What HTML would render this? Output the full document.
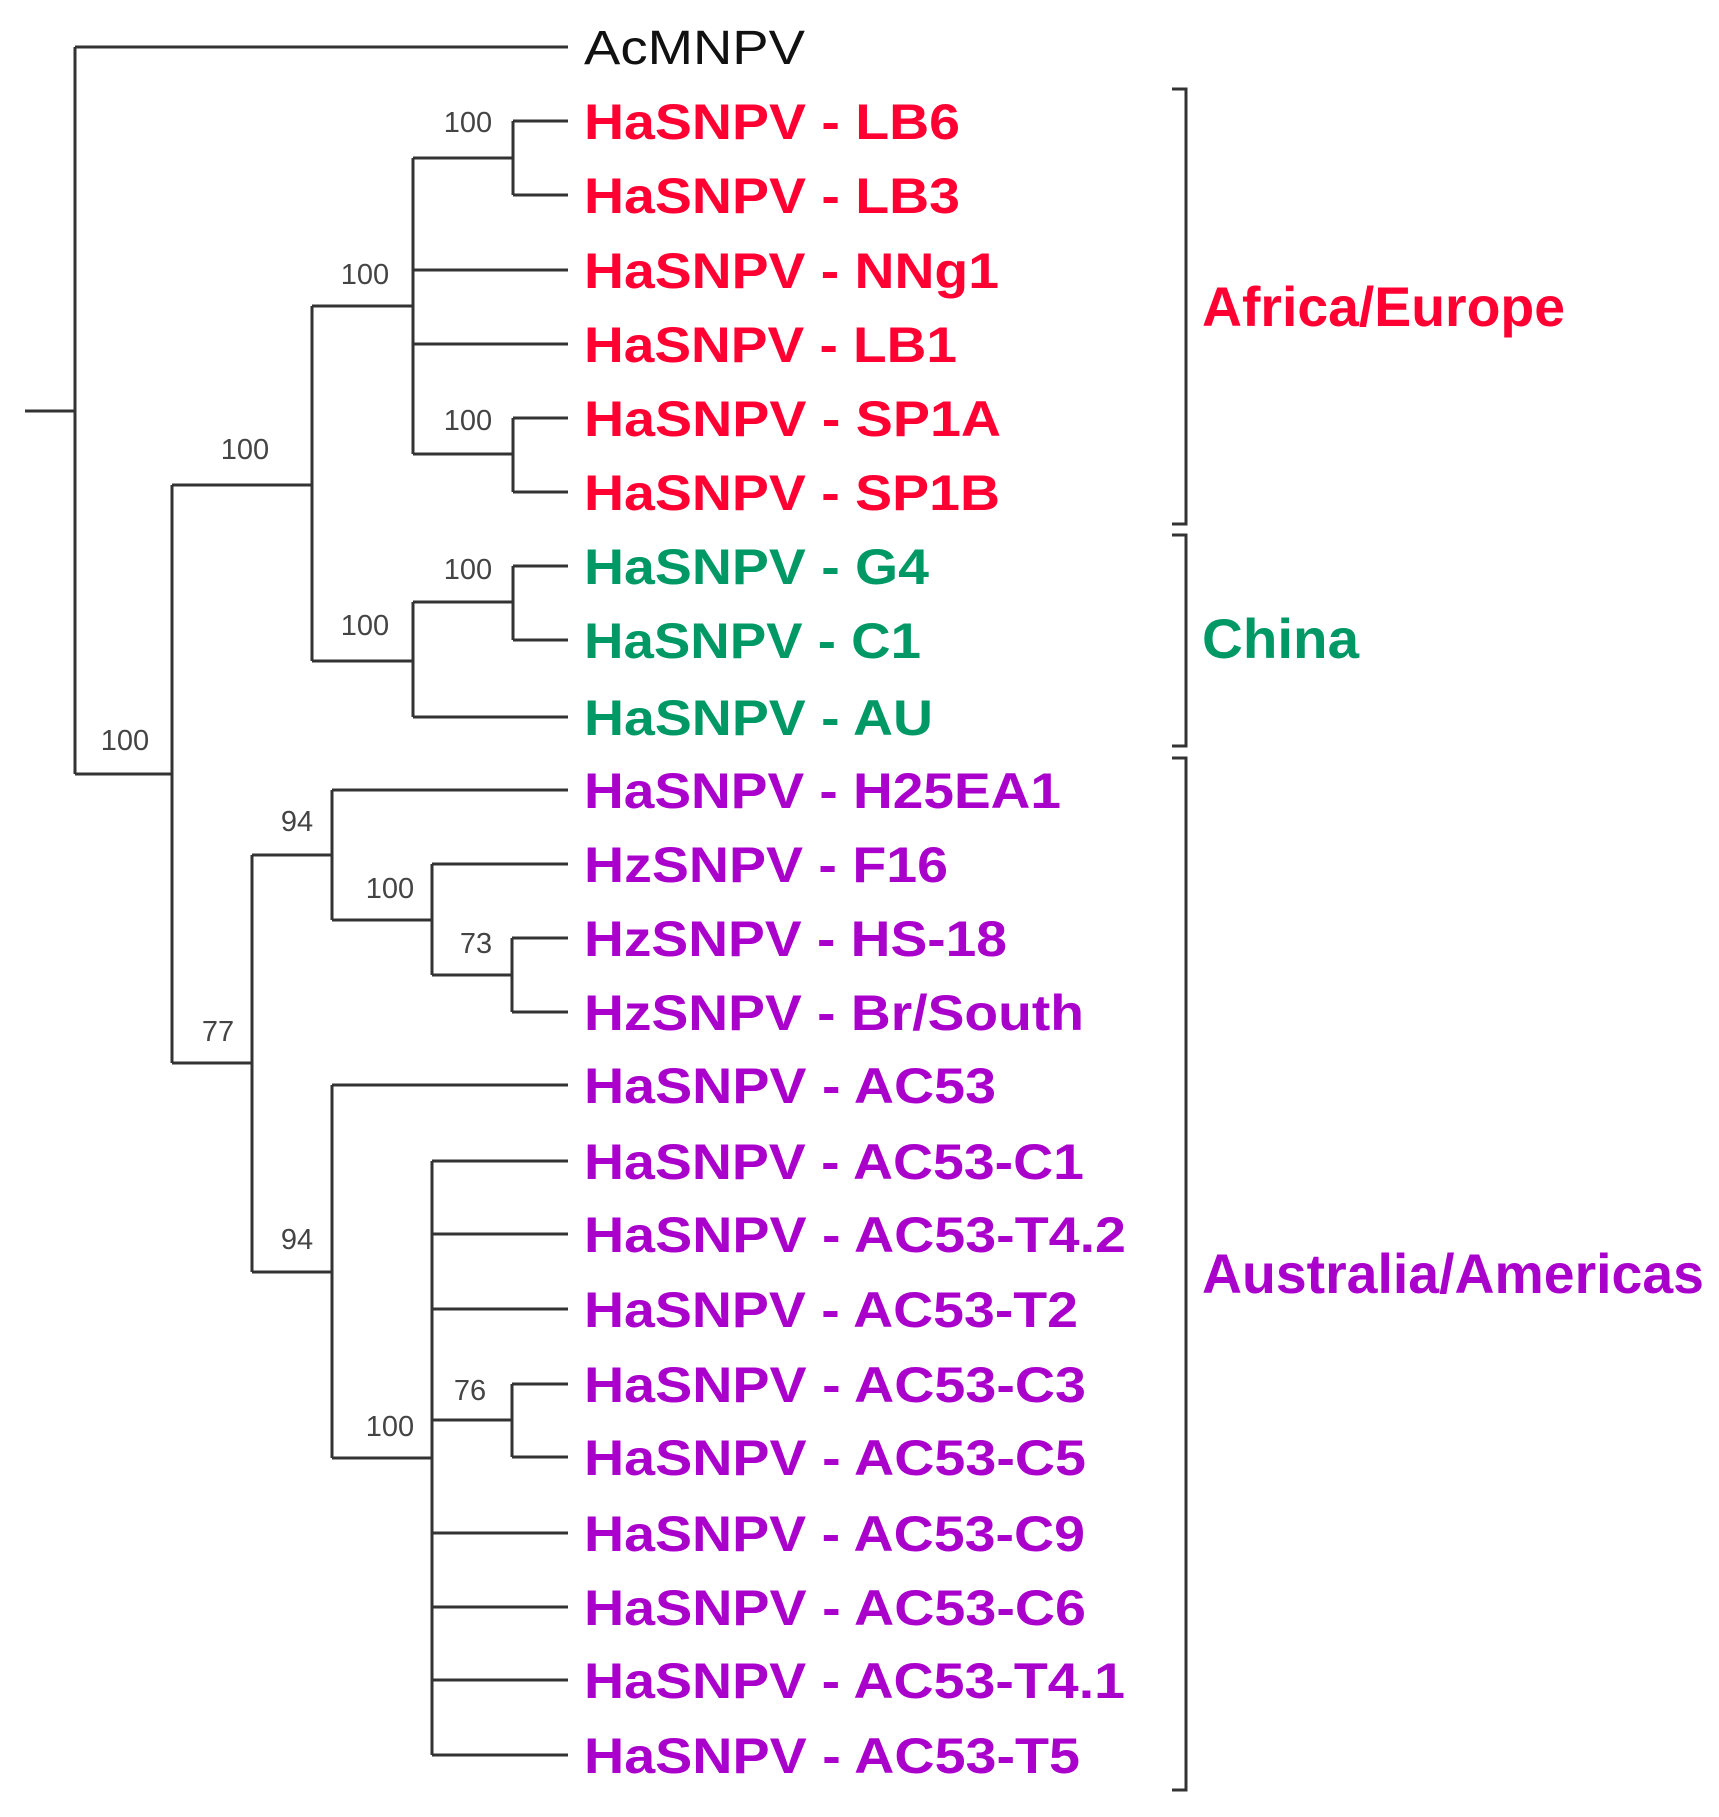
<!DOCTYPE html>
<html><head><meta charset="utf-8"><style>html,body{margin:0;padding:0;background:#fff}svg{display:block}</style></head>
<body>
<svg width="1719" height="1817" viewBox="0 0 1719 1817" xmlns="http://www.w3.org/2000/svg">
<g stroke="#333" stroke-width="3" fill="none">
<path d="M25 411H75M75 47V774M75 47H568M75 774H172"/>
<path d="M172 485V1063M172 485H312M172 1063H252"/>
<path d="M312 306V661M312 306H413M312 661H413"/>
<path d="M413 158V454M413 158H513M413 270H568M413 344H568M413 454H513"/>
<path d="M513 121V195M513 121H568M513 195H568"/>
<path d="M513 418V492M513 418H568M513 492H568"/>
<path d="M413 602V717M413 602H513M413 717H568"/>
<path d="M513 566V640M513 566H568M513 640H568"/>
<path d="M252 855V1272M252 855H332M252 1272H332"/>
<path d="M332 790V920M332 790H568M332 920H432"/>
<path d="M432 864V975M432 864H568M432 975H512"/>
<path d="M512 938V1012M512 938H568M512 1012H568"/>
<path d="M332 1085V1458M332 1085H568M332 1458H432"/>
<path d="M432 1161V1755M432 1161H568M432 1234H568M432 1309H568M432 1420H512M432 1533H568M432 1607H568M432 1680H568M432 1755H568"/>
<path d="M512 1384V1457M512 1384H568M512 1457H568"/>
<path d="M1172 89H1186V524H1172M1172 535H1186V746H1172M1172 758H1186V1790H1172"/>
</g>
<g font-family="Liberation Sans, Arial, sans-serif" font-size="29" fill="#444" text-anchor="middle">
<text x="468" y="132">100</text>
<text x="365" y="284">100</text>
<text x="468" y="430">100</text>
<text x="245" y="459">100</text>
<text x="468" y="579">100</text>
<text x="365" y="635">100</text>
<text x="125" y="750">100</text>
<text x="297" y="831">94</text>
<text x="390" y="898">100</text>
<text x="476" y="953">73</text>
<text x="218" y="1041">77</text>
<text x="297" y="1249">94</text>
<text x="470" y="1400">76</text>
<text x="390" y="1436">100</text>
</g>
<text x="584" y="64" font-family="Liberation Sans, Arial, sans-serif" font-size="48" fill="#111" textLength="221" lengthAdjust="spacingAndGlyphs">AcMNPV</text>
<g font-family="Liberation Sans, Arial, sans-serif" font-size="50" font-weight="bold">
<g fill="#ff0033">
<text x="584" y="139" textLength="376" lengthAdjust="spacingAndGlyphs">HaSNPV - LB6</text>
<text x="584" y="213" textLength="376" lengthAdjust="spacingAndGlyphs">HaSNPV - LB3</text>
<text x="584" y="288" textLength="415" lengthAdjust="spacingAndGlyphs">HaSNPV - NNg1</text>
<text x="584" y="362" textLength="373" lengthAdjust="spacingAndGlyphs">HaSNPV - LB1</text>
<text x="584" y="436" textLength="417" lengthAdjust="spacingAndGlyphs">HaSNPV - SP1A</text>
<text x="584" y="510" textLength="416" lengthAdjust="spacingAndGlyphs">HaSNPV - SP1B</text>
</g>
<g fill="#009966">
<text x="584" y="584" textLength="345" lengthAdjust="spacingAndGlyphs">HaSNPV - G4</text>
<text x="584" y="658" textLength="337" lengthAdjust="spacingAndGlyphs">HaSNPV - C1</text>
<text x="584" y="735" textLength="349" lengthAdjust="spacingAndGlyphs">HaSNPV - AU</text>
</g>
<g fill="#aa00cc">
<text x="584" y="808" textLength="477" lengthAdjust="spacingAndGlyphs">HaSNPV - H25EA1</text>
<text x="584" y="882" textLength="364" lengthAdjust="spacingAndGlyphs">HzSNPV - F16</text>
<text x="584" y="956" textLength="423" lengthAdjust="spacingAndGlyphs">HzSNPV - HS-18</text>
<text x="584" y="1030" textLength="500" lengthAdjust="spacingAndGlyphs">HzSNPV - Br/South</text>
<text x="584" y="1103" textLength="412" lengthAdjust="spacingAndGlyphs">HaSNPV - AC53</text>
<text x="584" y="1179" textLength="500" lengthAdjust="spacingAndGlyphs">HaSNPV - AC53-C1</text>
<text x="584" y="1252" textLength="542" lengthAdjust="spacingAndGlyphs">HaSNPV - AC53-T4.2</text>
<text x="584" y="1327" textLength="494" lengthAdjust="spacingAndGlyphs">HaSNPV - AC53-T2</text>
<text x="584" y="1402" textLength="502" lengthAdjust="spacingAndGlyphs">HaSNPV - AC53-C3</text>
<text x="584" y="1475" textLength="502" lengthAdjust="spacingAndGlyphs">HaSNPV - AC53-C5</text>
<text x="584" y="1551" textLength="501" lengthAdjust="spacingAndGlyphs">HaSNPV - AC53-C9</text>
<text x="584" y="1625" textLength="502" lengthAdjust="spacingAndGlyphs">HaSNPV - AC53-C6</text>
<text x="584" y="1698" textLength="541" lengthAdjust="spacingAndGlyphs">HaSNPV - AC53-T4.1</text>
<text x="584" y="1773" textLength="496" lengthAdjust="spacingAndGlyphs">HaSNPV - AC53-T5</text>
</g>
<text x="1202" y="326" fill="#ff0033" font-size="56" textLength="363" lengthAdjust="spacingAndGlyphs">Africa/Europe</text>
<text x="1202" y="658" fill="#009966" font-size="56" textLength="157" lengthAdjust="spacingAndGlyphs">China</text>
<text x="1202" y="1293" fill="#aa00cc" font-size="56" textLength="502" lengthAdjust="spacingAndGlyphs">Australia/Americas</text>
</g>
</svg>
</body></html>
